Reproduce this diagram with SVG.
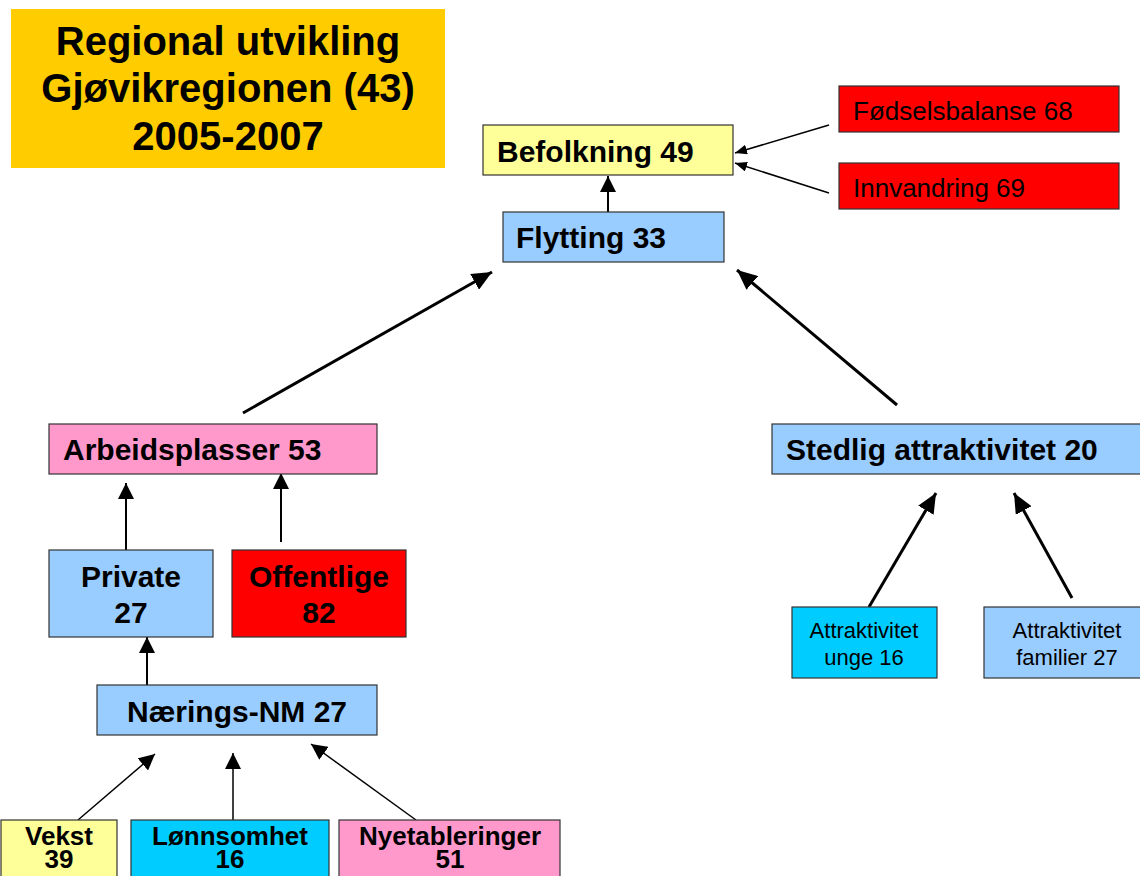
<svg xmlns="http://www.w3.org/2000/svg" width="1140" height="876" viewBox="0 0 1140 876">
<style>
.box{stroke:#333;stroke-width:1.2}
.b{font-family:"Liberation Sans",Arial,sans-serif;font-weight:bold;font-size:30px;fill:#000}
.r{font-family:"Liberation Sans",Arial,sans-serif;font-size:26px;fill:#000}
.s{font-family:"Liberation Sans",Arial,sans-serif;font-size:22px;fill:#000;text-anchor:middle}
.bb{font-family:"Liberation Sans",Arial,sans-serif;font-weight:bold;font-size:26px;fill:#000;text-anchor:middle}
.t{font-family:"Liberation Sans",Arial,sans-serif;font-weight:bold;font-size:40px;fill:#000;text-anchor:middle}
.c{text-anchor:middle}
.thin{stroke:#000;stroke-width:1.5;fill:none}
.med{stroke:#000;stroke-width:2;fill:none}
.thick{stroke:#000;stroke-width:3;fill:none}
</style>
<defs>
<marker id="hs" viewBox="0 0 12 10" markerWidth="12" markerHeight="10" refX="12" refY="5" orient="auto" markerUnits="userSpaceOnUse"><path d="M0,0 L12,5 L0,10 z" fill="#000"/></marker>
<marker id="hm" viewBox="0 0 16 16" markerWidth="16" markerHeight="16" refX="16" refY="8" orient="auto" markerUnits="userSpaceOnUse"><path d="M0,0 L16,8 L0,16 z" fill="#000"/></marker>
<marker id="hl" viewBox="0 0 20 18" markerWidth="20" markerHeight="18" refX="20" refY="9" orient="auto" markerUnits="userSpaceOnUse"><path d="M0,0 L20,9 L0,18 z" fill="#000"/></marker>
</defs>
<rect width="1140" height="876" fill="#fff"/>
<g id="title">
<rect x="11" y="9" width="434" height="159" fill="#FFCC00"/>
<text class="t" x="228" y="55">Regional utvikling</text>
<text class="t" x="228" y="102">Gjøvikregionen (43)</text>
<text class="t" x="228" y="150">2005-2007</text>
</g>
<g id="connectors">
<line class="med" x1="608" y1="212" x2="608" y2="176" marker-end="url(#hm)"/>
<line class="thin" x1="829" y1="125" x2="735" y2="153" marker-end="url(#hs)"/>
<line class="thin" x1="829" y1="193" x2="735" y2="163" marker-end="url(#hs)"/>
<line class="thick" x1="243" y1="413" x2="492" y2="272" marker-end="url(#hl)"/>
<line class="thick" x1="897" y1="405" x2="737" y2="270" marker-end="url(#hl)"/>
<line class="med" x1="126" y1="550" x2="126" y2="483" marker-end="url(#hm)"/>
<line class="med" x1="281" y1="542" x2="281" y2="473" marker-end="url(#hm)"/>
<line class="med" x1="147" y1="685" x2="147" y2="637" marker-end="url(#hm)"/>
<line class="thick" x1="869" y1="607" x2="936" y2="493" marker-end="url(#hl)"/>
<line class="thick" x1="1072" y1="598" x2="1014" y2="493" marker-end="url(#hl)"/>
<line class="thin" x1="78" y1="820" x2="155" y2="754" marker-end="url(#hm)"/>
<line class="thin" x1="233" y1="820" x2="233" y2="753" marker-end="url(#hm)"/>
<line class="thin" x1="416" y1="820" x2="311" y2="744" marker-end="url(#hm)"/>
</g>
<g id="befolkning">
<rect class="box" x="483" y="125" width="250" height="50" fill="#FFFF99"/>
<text class="b" x="497" y="162">Befolkning 49</text>
</g>
<g id="fodselsbalanse">
<rect class="box" x="839" y="86" width="280" height="46" fill="#FF0000"/>
<text class="r" x="853" y="120">Fødselsbalanse 68</text>
</g>
<g id="innvandring">
<rect class="box" x="839" y="163" width="280" height="46" fill="#FF0000"/>
<text class="r" x="853" y="197">Innvandring 69</text>
</g>
<g id="flytting">
<rect class="box" x="503" y="212" width="221" height="50" fill="#99CCFF"/>
<text class="b" x="516" y="248">Flytting 33</text>
</g>
<g id="arbeidsplasser">
<rect class="box" x="49" y="424" width="328" height="50" fill="#FF99CC"/>
<text class="b" x="63" y="460">Arbeidsplasser 53</text>
</g>
<g id="stedlig">
<rect class="box" x="772" y="424" width="380" height="50" fill="#99CCFF"/>
<text class="b" x="786" y="460">Stedlig attraktivitet 20</text>
</g>
<g id="private">
<rect class="box" x="49" y="550" width="164" height="87" fill="#99CCFF"/>
<text class="b c" x="131" y="587">Private</text>
<text class="b c" x="131" y="623">27</text>
</g>
<g id="offentlige">
<rect class="box" x="232" y="550" width="174" height="87" fill="#FF0000"/>
<text class="b c" x="319" y="587">Offentlige</text>
<text class="b c" x="319" y="623">82</text>
</g>
<g id="naerings">
<rect class="box" x="97" y="685" width="280" height="50" fill="#99CCFF"/>
<text class="b c" x="237" y="722">Nærings-NM 27</text>
</g>
<g id="unge">
<rect class="box" x="792" y="607" width="145" height="71" fill="#00CCFF"/>
<text class="s" x="864" y="638">Attraktivitet</text>
<text class="s" x="864" y="665">unge 16</text>
</g>
<g id="familier">
<rect class="box" x="984" y="607" width="170" height="71" fill="#99CCFF"/>
<text class="s" x="1067" y="638">Attraktivitet</text>
<text class="s" x="1067" y="665">familier 27</text>
</g>
<g id="vekst">
<rect class="box" x="1" y="820" width="116" height="70" fill="#FFFF99"/>
<text class="bb" x="59" y="845">Vekst</text>
<text class="bb" x="59" y="868">39</text>
</g>
<g id="lonnsomhet">
<rect class="box" x="131" y="820" width="198" height="70" fill="#00CCFF"/>
<text class="bb" x="230" y="845">Lønnsomhet</text>
<text class="bb" x="230" y="868">16</text>
</g>
<g id="nyetableringer">
<rect class="box" x="339" y="820" width="221" height="70" fill="#FF99CC"/>
<text class="bb" x="450" y="845">Nyetableringer</text>
<text class="bb" x="450" y="868">51</text>
</g>
</svg>
